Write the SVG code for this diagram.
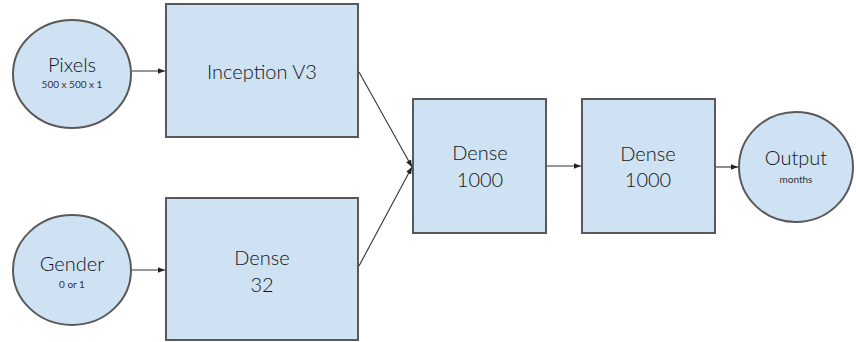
<svg xmlns="http://www.w3.org/2000/svg" width="856" height="342" viewBox="0 0 856 342">
<defs>
<marker id="ah" viewBox="0 0 10 10" refX="10" refY="5" markerWidth="7" markerHeight="7" markerUnits="userSpaceOnUse" orient="auto">
<path d="M0,1 L10,5 L0,9 z" fill="#222"/>
</marker>
<style>
.n{fill:#cfe2f3;stroke:#595959;stroke-width:2}
.t{font-family:Lato,"Liberation Sans",sans-serif;fill:#111418;text-anchor:middle;font-weight:300}
.big{font-size:20px}
.sm{font-size:10px;font-weight:400;fill:#333}
.c{stroke:#333;stroke-width:1.1;fill:none;marker-end:url(#ah)}
</style>
</defs>
<rect width="856" height="342" fill="#fff"/>
<g id="connectors">
<line class="c" x1="132" y1="71" x2="165" y2="71"/>
<line class="c" x1="132" y1="270" x2="165" y2="270"/>
<line class="c" x1="359" y1="72" x2="412" y2="167"/>
<line class="c" x1="359" y1="266" x2="412" y2="167"/>
<line class="c" x1="547" y1="166" x2="581" y2="166"/>
<line class="c" x1="716" y1="167" x2="738" y2="167"/>
</g>
<g id="pixels">
<ellipse class="n" cx="72" cy="74" rx="59" ry="54"/>
<text class="t big" x="72" y="72">Pixels</text>
<text class="t sm" x="72" y="88">500 x 500 x 1</text>
</g>
<g id="gender">
<ellipse class="n" cx="72" cy="270" rx="59" ry="55"/>
<text class="t big" x="72" y="271">Gender</text>
<text class="t sm" x="72" y="288">0 or 1</text>
</g>
<g id="inception">
<rect class="n" x="166" y="4" width="192" height="133"/>
<text class="t big" x="262" y="79">Inception V3</text>
</g>
<g id="dense32">
<rect class="n" x="166" y="198" width="192" height="142"/>
<text class="t big" x="262" y="265">Dense</text>
<text class="t big" x="262" y="292">32</text>
</g>
<g id="dense1000a">
<rect class="n" x="413" y="99" width="133" height="134"/>
<text class="t big" x="480" y="160">Dense</text>
<text class="t big" x="480" y="187">1000</text>
</g>
<g id="dense1000b">
<rect class="n" x="582" y="99" width="133" height="134"/>
<text class="t big" x="648" y="161">Dense</text>
<text class="t big" x="648" y="187">1000</text>
</g>
<g id="output">
<ellipse class="n" cx="796" cy="167" rx="57" ry="55"/>
<text class="t big" x="796" y="165">Output</text>
<text class="t sm" x="796" y="183">months</text>
</g>
</svg>
